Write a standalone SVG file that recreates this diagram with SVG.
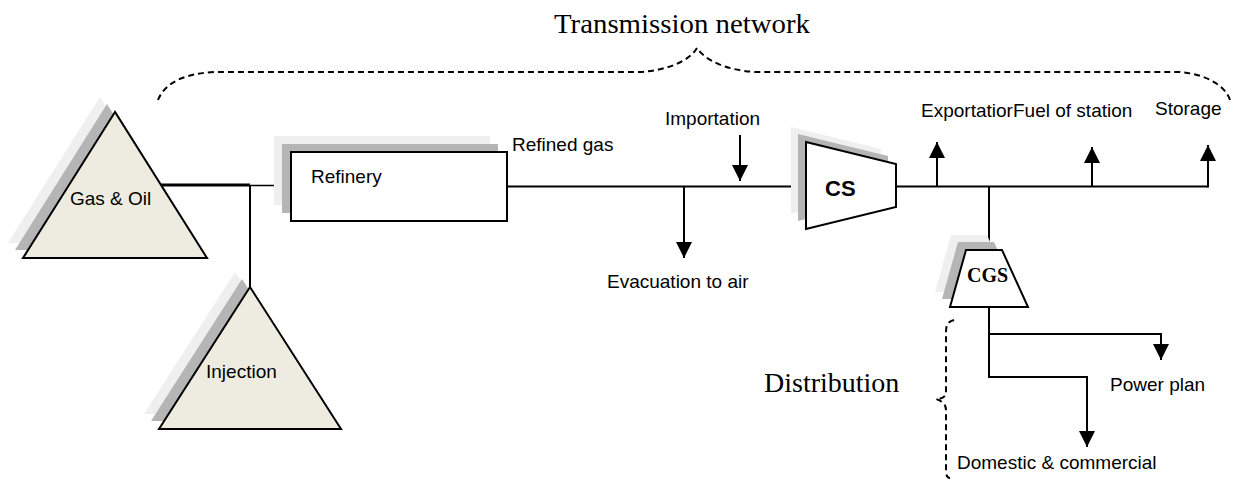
<svg xmlns="http://www.w3.org/2000/svg" width="1236" height="484" viewBox="0 0 1236 484">
  <style>
    .lbl { font-family: "Liberation Sans", Arial, sans-serif; font-size: 19px; fill: #000; }
    .ttl { font-family: "Liberation Serif", "Times New Roman", serif; font-size: 28px; fill: #000; }
    .shape { stroke: #000; stroke-width: 2; }
    .src { fill: #EEECE1; }
    .white { fill: #fff; }
    .sh1 { fill: #EFEFEF; }
    .sh2 { fill: #B5B5B5; }
    .pipe { fill: none; stroke: #000; stroke-width: 2; }
    .brace { fill: none; stroke: #000; stroke-width: 2; stroke-dasharray: 6 4; }
  </style>
  <defs>
    <marker id="head" markerUnits="userSpaceOnUse" markerWidth="16" markerHeight="16" viewBox="0 0 16 16" refX="16" refY="8" orient="auto">
      <path d="M0,0 L16,8 L0,16 Z" fill="#000"/>
    </marker>
  </defs>

  <rect width="1236" height="484" fill="#fff"/>

  <!-- titles and braces -->
  <text class="ttl" x="554" y="33" textLength="256" lengthAdjust="spacingAndGlyphs">Transmission network</text>
  <path class="brace" d="M158,100 C166,80 190,73 215,72 L640,72 C670,70 690,60 697,48 C705,60 725,70 755,72 L1180,72 C1205,74 1225,85 1230,100"/>
  <text class="ttl" x="764" y="392">Distribution</text>
  <path class="brace" d="M954,320 C947,322 946,326 946,332 L946,392 C946,397 942,399 936,399 C942,401 946,404 946,410 L946,472 C946,476 948,478 950,478"/>

  <!-- connectors -->
  <g id="connectors">
    <line x1="161" y1="185" x2="250" y2="185" stroke="#000" stroke-width="3"/>
    <line x1="250" y1="185.5" x2="291" y2="185.5" stroke="#000" stroke-width="1.5"/>
    <line x1="250" y1="185" x2="250" y2="288" stroke="#000" stroke-width="2"/>
    <path class="pipe" d="M507,186.5 L806,186.5"/>
    <path class="pipe" d="M740,135 L740,181" marker-end="url(#head)"/>
    <path class="pipe" d="M684,186.5 L684,258" marker-end="url(#head)"/>
    <path class="pipe" d="M896,186.5 L1208,186.5"/>
    <path class="pipe" d="M937,186.5 L937,142" marker-end="url(#head)"/>
    <path class="pipe" d="M1092,186.5 L1092,147" marker-end="url(#head)"/>
    <path class="pipe" d="M1208,187.5 L1208,145" marker-end="url(#head)"/>
    <path class="pipe" d="M989,186.5 L989,250"/>
    <path class="pipe" d="M989,307 L989,377 L1087,377 L1087,447" marker-end="url(#head)"/>
    <path class="pipe" d="M989,334 L1161,334 L1161,360" marker-end="url(#head)"/>
  </g>

  <!-- Gas & Oil source -->
  <g id="gas-oil">
    <polygon class="sh1" points="100,97 8,243 192,243"/>
    <polygon class="sh2" points="107,104 15,250 199,250"/>
    <polygon class="src shape" points="115,112 23,258 207,258"/>
    <text class="lbl" x="70" y="205">Gas &amp; Oil</text>
  </g>

  <!-- Injection -->
  <g id="injection">
    <polygon class="sh1" points="235,272 144,414 326,414"/>
    <polygon class="sh2" points="242,279 151,421 333,421"/>
    <polygon class="src shape" points="250,287 159,429 341,429"/>
    <text class="lbl" x="206" y="378">Injection</text>
  </g>

  <!-- Refinery -->
  <g id="refinery">
    <rect class="sh1" x="274" y="136" width="216" height="69"/>
    <rect class="sh2" x="282" y="144" width="216" height="69"/>
    <rect class="white shape" x="291" y="152" width="216" height="69"/>
    <text class="lbl" x="311" y="183">Refinery</text>
  </g>
  <text class="lbl" x="512" y="151">Refined gas</text>

  <text class="lbl" x="665" y="125">Importation</text>
  <text class="lbl" x="607" y="288">Evacuation to air</text>

  <!-- Compressor station -->
  <g id="cs">
    <polygon class="sh1" points="791,127 881,149 881,192 791,214"/>
    <polygon class="sh2" points="798,134 888,156 888,199 798,221"/>
    <polygon class="white shape" points="806,142 896,164 896,207 806,229"/>
    <text x="825" y="196" font-family="Liberation Sans, Arial, sans-serif" font-size="22" font-weight="bold">CS</text>
  </g>

  <text class="lbl" x="921" y="117">Exportatior</text>
  <text class="lbl" x="1013" y="117" font-size="17">Fuel of station</text>
  <text class="lbl" x="1155" y="115">Storage</text>

  <!-- City gate station -->
  <g id="cgs">
    <polygon class="sh1" points="951,235 987,235 1013,292 935,292"/>
    <polygon class="sh2" points="958,242 994,242 1020,299 942,299"/>
    <polygon class="white shape" points="966,250 1002,250 1028,307 950,307"/>
    <text x="967" y="282" font-family="Liberation Serif, Times New Roman, serif" font-size="20" font-weight="bold">CGS</text>
  </g>

  <text class="lbl" x="1110" y="391">Power plan</text>
  <text class="lbl" x="957" y="469">Domestic &amp; commercial</text>
</svg>
